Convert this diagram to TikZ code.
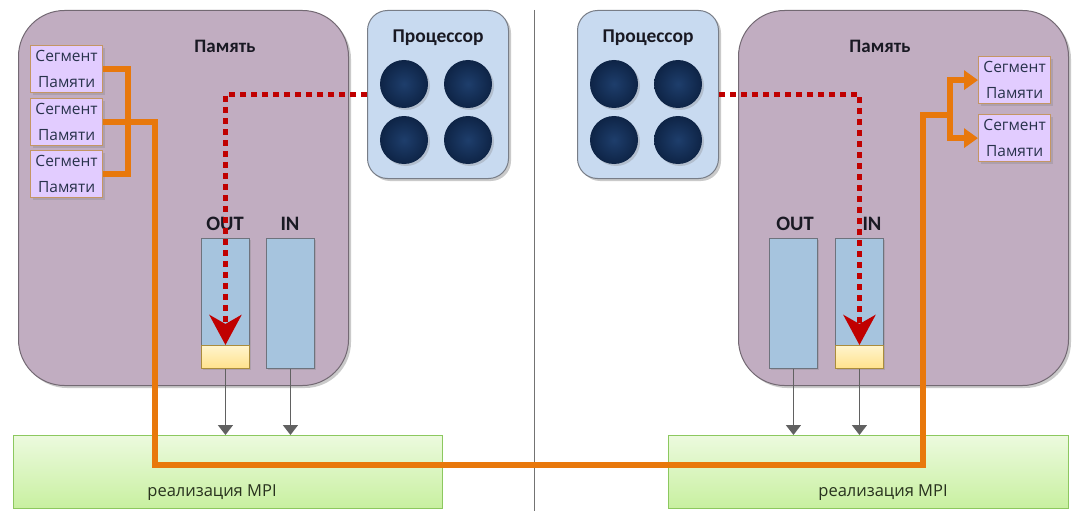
\documentclass[tikz,border=0pt]{standalone}
\usepackage{fontspec}
\setmainfont{Carlito}
\newfontfamily\segfont{Open Sans}
\usetikzlibrary{arrows.meta,shadows}

\definecolor{memfill}{RGB}{193,173,193}
\definecolor{memdraw}{RGB}{115,105,115}
\definecolor{procfill}{RGB}{200,218,240}
\definecolor{procdraw}{RGB}{120,125,135}
\definecolor{corein}{RGB}{30,62,108}
\definecolor{coreout}{RGB}{14,36,70}
\definecolor{segfill}{RGB}{226,204,255}
\definecolor{segdraw}{RGB}{196,150,100}
\definecolor{segtext}{RGB}{40,50,75}
\definecolor{buffill}{RGB}{166,196,222}
\definecolor{bufdraw}{RGB}{110,115,125}
\definecolor{slottop}{RGB}{255,244,205}
\definecolor{slotbot}{RGB}{255,226,140}
\definecolor{slotdraw}{RGB}{170,140,60}
\definecolor{mpitop}{RGB}{236,250,222}
\definecolor{mpibot}{RGB}{200,240,160}
\definecolor{mpidraw}{RGB}{140,200,95}
\definecolor{mpitextc}{RGB}{40,50,30}
\definecolor{busorange}{RGB}{232,120,12}
\definecolor{flowred}{RGB}{192,0,0}
\definecolor{titletext}{RGB}{25,25,35}

\tikzset{
  softshadow/.style={drop shadow={shadow xshift=2.5pt, shadow yshift=-2.5pt, opacity=0.35, fill=black!60}},
  membox/.style={draw=memdraw, line width=1pt, fill=memfill, rounded corners=46pt,
    anchor=north west, minimum width=330pt, minimum height=375pt, softshadow},
  procbox/.style={draw=procdraw, line width=1pt, fill=procfill, rounded corners=20pt,
    anchor=north west, minimum width=141pt, minimum height=168pt},
  core/.style={circle, minimum size=48pt, inner sep=0pt, inner color=corein, outer color=coreout,
    drop shadow={shadow xshift=2pt, shadow yshift=-2pt, opacity=0.3}},
  title/.style={font=\fontsize{19}{21}\selectfont\bfseries, text=titletext, inner sep=0pt},
  bigtitle/.style={title, font=\fontsize{20.5}{22}\selectfont\bfseries},
  segbox/.style={draw=segdraw, line width=1.2pt, fill=segfill, anchor=north west,
    minimum width=72pt, minimum height=47pt, inner sep=0pt, align=center,
    font=\segfont\fontsize{15.5}{26}\selectfont, text=segtext,
    drop shadow={shadow xshift=2pt, shadow yshift=-2pt, opacity=0.3}},
  bufbox/.style={draw=bufdraw, line width=0.9pt, fill=buffill, anchor=north west,
    minimum width=48pt, minimum height=130pt, inner sep=0pt,
    drop shadow={shadow xshift=1.5pt, shadow yshift=-1.5pt, opacity=0.3}},
  slotbox/.style={draw=slotdraw, line width=0.9pt, top color=slottop, bottom color=slotbot,
    anchor=south west, minimum width=48pt, minimum height=23pt, inner sep=0pt},
  mpibox/.style={draw=mpidraw, line width=1pt, top color=mpitop, bottom color=mpibot,
    anchor=north west, minimum width=429pt, minimum height=73pt, inner sep=0pt},
  mpitext/.style={font=\segfont\fontsize{16.5}{18}\selectfont, text=mpitextc, inner sep=0pt},
  bus/.style={draw=busorange, line width=6pt},
  busarrow/.style={bus, -{Triangle[length=14pt,width=19pt]}},
  flow/.style={draw=flowred, line width=5pt, dash pattern=on 6pt off 5pt,
    -{Stealth[length=30pt,width=32pt,inset=9pt]}},
  feed/.style={draw=black!62, line width=1.6pt, -{Triangle[length=10pt,width=15pt]}},
  divider/.style={draw=black!55, line width=1pt}
}

\begin{document}
\begin{tikzpicture}[x=1pt,y=-1pt]
\useasboundingbox (0,0) rectangle (1072,511);

% separator between the two processes
\coordinate (divtop) at (534,10);
\coordinate (divbot) at (534,511);
\draw[divider] (divtop) -- (divbot);

% ---------- left process ----------
\node[membox] (memL) at (18,10) {};
\node[title] (memLt) at (225,46) {Память};

\node[segbox] (sL1) at (30,45) {Сегмент\\Памяти};
\node[segbox] (sL2) at (30,98) {Сегмент\\Памяти};
\node[segbox] (sL3) at (30,150) {Сегмент\\Памяти};

\node[bufbox] (outL) at (201,238) {};
\node[slotbox] (slotL) at (outL.south west) {};
\node[bufbox] (inL) at (266,238) {};
\node[bigtitle] (outLt) at (225,224) {OUT};
\node[bigtitle] (inLt) at (290,224) {IN};

\node[procbox, softshadow] (procL) at (367,10) {};
\node[title, font=\fontsize{19.5}{21}\selectfont\bfseries] (procLt) at (438,38) {Процессор};
\node[core] (cL1) at (404,84) {};
\node[core] (cL2) at (468,84) {};
\node[core] (cL3) at (404,140) {};
\node[core] (cL4) at (468,140) {};

\node[mpibox] (mpiL) at (13,435) {};
\node[mpitext] (mpiLt) at (212,493) {реализация MPI};

\draw[feed] (outL.south) -- (outL.south |- mpiL.north);
\draw[feed] (inL.south) -- (inL.south |- mpiL.north);

% ---------- right process ----------
\node[membox] (memR) at (738,10) {};
\node[title] (memRt) at (880,46) {Память};

\node[segbox] (sR1) at (978,56) {Сегмент\\Памяти};
\node[segbox] (sR2) at (978,114) {Сегмент\\Памяти};

\node[bufbox] (outR) at (769,238) {};
\node[bufbox] (inR) at (835,238) {};
\node[slotbox] (slotR) at (inR.south west) {};
\node[bigtitle] (outRt) at (795,224) {OUT};
\node[bigtitle] (inRt) at (872,224) {IN};

\node[procbox, softshadow] (procR) at (577,10) {};
\node[title, font=\fontsize{19.5}{21}\selectfont\bfseries] (procRt) at (648,38) {Процессор};
\node[core] (cR1) at (614,84) {};
\node[core] (cR2) at (678,84) {};
\node[core] (cR3) at (614,140) {};
\node[core] (cR4) at (678,140) {};

\node[mpibox, minimum width=400pt] (mpiR) at (668,435) {};
\node[mpitext] (mpiRt) at (883,493) {реализация MPI};

\draw[feed] (outR.south) -- (outR.south |- mpiR.north);
\draw[feed] (inR.south) -- (inR.south |- mpiR.north);

% ---------- data path between segments ----------
\coordinate (joinL) at (128,120);
\coordinate (downL) at (155,465);
\coordinate (upR) at (923,465);
\coordinate (forkR) at (950,115);

\draw[bus] (sL1.east) -| (joinL) |- (sL3.east);
\draw[bus] (sL2.east) -| (downL) -- (upR) |- (forkR);
\draw[busarrow] (forkR) |- (sR1.west);
\draw[busarrow] (forkR) |- (sR2.west);

% ---------- processor to buffer ----------
\draw[flow] (procL.west) -| (slotL.north);
\draw[flow] (procR.east) -| (slotR.north);

\end{tikzpicture}
\end{document}
